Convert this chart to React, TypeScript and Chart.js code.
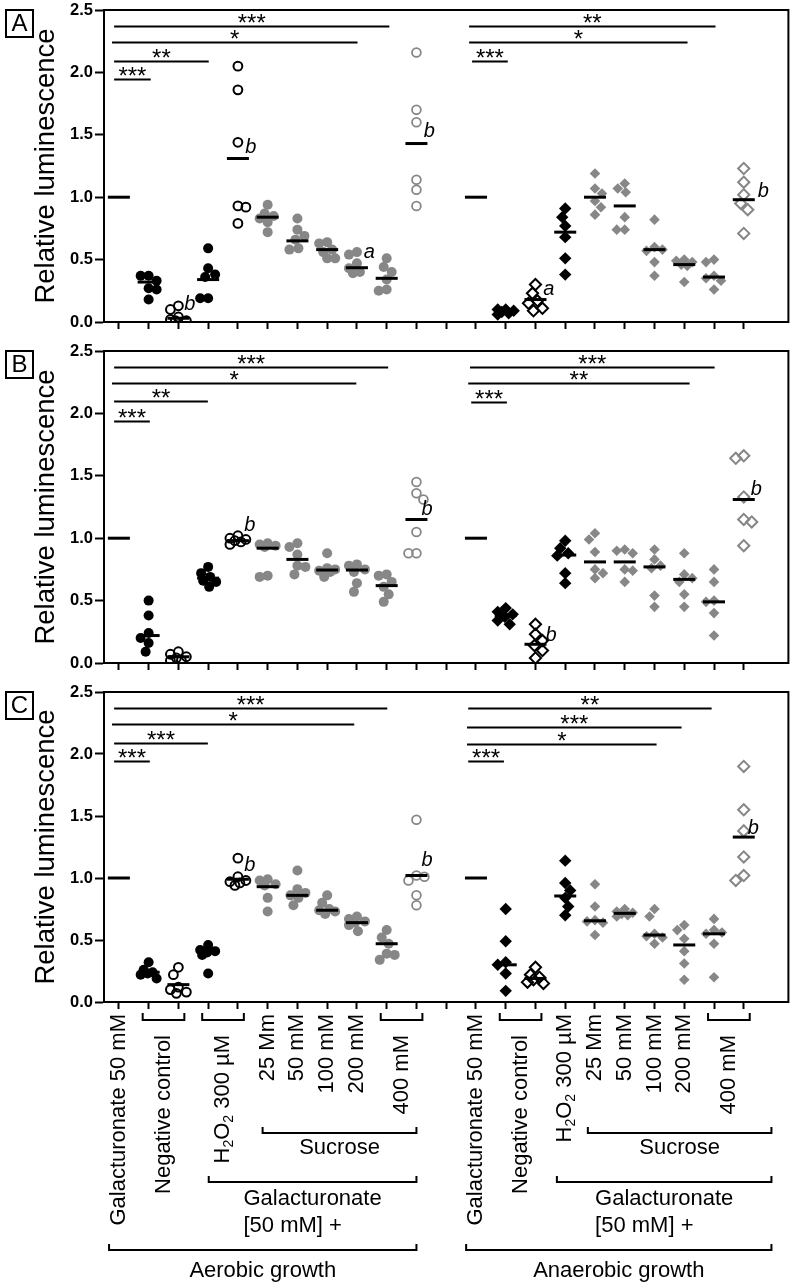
import React, { useEffect, useRef } from 'react';
import { Chart, registerables } from 'chart.js';
Chart.register(...registerables);

const FONT = '"Liberation Sans", Arial, Helvetica, sans-serif';
const GREY = '#878787';

// ---------- categories ----------
const ANAEROBIC_START = 12;
const aerobicKinds = ['line', 'blackDot', 'blackRing', 'blackDot', 'blackRing', 'greyDot', 'greyDot', 'greyDot', 'greyDot', 'greyDot', 'greyRing'];
const anaerobicKinds = ['line', 'blackDiamond', 'blackOpenDiamond', 'blackDiamond', 'greyDiamond', 'greyDiamond', 'greyDiamond', 'greyDiamond', 'greyDiamond', 'greyOpenDiamond'];

const aerobicCategories = [
  { label: 'Galacturonate 50 mM', from: 0, to: 0 },
  { label: 'Negative control', from: 1, to: 2 },
  { label: 'H₂O₂ 300 µM', from: 3, to: 4 },
  { label: '25 Mm', from: 5, to: 5 },
  { label: '50 mM', from: 6, to: 6 },
  { label: '100 mM', from: 7, to: 7 },
  { label: '200 mM', from: 8, to: 8 },
  { label: '400 mM', from: 9, to: 10 },
];
const anaerobicCategories = [
  { label: 'Galacturonate 50 mM', from: 12, to: 12 },
  { label: 'Negative control', from: 13, to: 14 },
  { label: 'H₂O₂ 300 µM', from: 15, to: 15 },
  { label: '25 Mm', from: 16, to: 16 },
  { label: '50 mM', from: 17, to: 17 },
  { label: '100 mM', from: 18, to: 18 },
  { label: '200 mM', from: 19, to: 19 },
  { label: '400 mM', from: 20, to: 21 },
];
const groupSucrose = [[4.83, 10.0], [15.76, 21.93]];
const groupGalacturonate = [[3.02, 10.0], [14.72, 21.93]];
const groupGrowth = [[-0.33, 10.0, 'Aerobic growth'], [11.67, 21.93, 'Anaerobic growth']];

// ---------- Panel A ----------
const aerobicA = [
  [1, 1, 1, 1, 1, 1],
  [0.37, 0.37, 0.33, 0.27, 0.26, 0.18],
  [0.13, 0.10, 0.04, 0.02, 0.01, 0.01],
  [0.59, 0.43, 0.38, 0.36, 0.19, 0.19],
  [2.05, 1.86, 1.44, 0.93, 0.92, 0.79],
  [0.94, 0.87, 0.85, 0.83, 0.80, 0.72],
  [0.83, 0.74, 0.69, 0.66, 0.59, 0.58],
  [0.64, 0.63, 0.58, 0.56, 0.51, 0.51],
  [0.56, 0.54, 0.47, 0.43, 0.40, 0.39],
  [0.51, 0.44, 0.40, 0.34, 0.26, 0.25],
  [2.16, 1.70, 1.60, 1.14, 1.06, 0.93],
];
const anaerobicA = [
  [1, 1, 1, 1, 1, 1],
  [0.10, 0.10, 0.09, 0.08, 0.07, 0.06],
  [0.30, 0.23, 0.17, 0.15, 0.11, 0.09],
  [0.91, 0.84, 0.77, 0.68, 0.51, 0.38],
  [1.19, 1.07, 1.03, 0.97, 0.92, 0.86],
  [1.11, 1.07, 1.04, 0.84, 0.74, 0.74],
  [0.82, 0.60, 0.58, 0.57, 0.48, 0.37],
  [0.50, 0.49, 0.48, 0.46, 0.45, 0.32],
  [0.50, 0.48, 0.37, 0.35, 0.33, 0.26],
  [1.23, 1.12, 1.02, 0.95, 0.90, 0.71],
];
const meansAerobicA = [1.0, 0.32, 0.03, 0.34, 1.31, 0.84, 0.65, 0.58, 0.435, 0.35, 1.43];
const meansAnaerobicA = [1.0, 0.08, 0.18, 0.72, 1.0, 0.93, 0.58, 0.46, 0.36, 0.98];
const sigA = [
  [-0.16, 1.07, 1.95, '***'],
  [-0.16, 3.02, 2.09, '**'],
  [-0.23, 8.02, 2.24, '*'],
  [-0.16, 9.09, 2.37, '***'],
  [11.87, 13.07, 2.09, '***'],
  [11.77, 19.11, 2.24, '*'],
  [11.77, 20.05, 2.37, '**'],
];
const lettersA = [
  [2.38, 0.14, 'b'], [4.43, 1.40, 'b'], [8.42, 0.56, 'a'], [10.43, 1.53, 'b'], [14.45, 0.26, 'a'], [21.66, 1.05, 'b'],
];

// ---------- Panel B ----------
const aerobicB = [
  [1, 1, 1, 1, 1, 1],
  [0.50, 0.38, 0.24, 0.20, 0.16, 0.09],
  [0.09, 0.07, 0.05, 0.04, 0.02, 0.02],
  [0.77, 0.72, 0.69, 0.66, 0.65, 0.61],
  [1.02, 1.00, 0.99, 0.98, 0.97, 0.95],
  [0.96, 0.95, 0.94, 0.93, 0.70, 0.69],
  [0.96, 0.93, 0.87, 0.78, 0.77, 0.71],
  [0.88, 0.76, 0.75, 0.74, 0.73, 0.69],
  [0.79, 0.78, 0.75, 0.73, 0.64, 0.57],
  [0.71, 0.70, 0.65, 0.61, 0.55, 0.49],
  [1.45, 1.36, 1.31, 1.05, 0.88, 0.88],
];
const anaerobicB = [
  [1, 1, 1, 1, 1, 1],
  [0.44, 0.41, 0.39, 0.37, 0.34, 0.31],
  [0.31, 0.23, 0.18, 0.14, 0.10, 0.04],
  [0.98, 0.92, 0.88, 0.86, 0.72, 0.64],
  [1.04, 0.99, 0.89, 0.75, 0.72, 0.68],
  [0.91, 0.90, 0.88, 0.75, 0.74, 0.65],
  [0.91, 0.83, 0.78, 0.76, 0.54, 0.45],
  [0.88, 0.71, 0.68, 0.65, 0.55, 0.45],
  [0.75, 0.65, 0.50, 0.49, 0.40, 0.22],
  [1.66, 1.64, 1.33, 1.15, 1.13, 0.94],
];
const meansAerobicB = [1.0, 0.22, 0.05, 0.68, 0.98, 0.92, 0.83, 0.745, 0.745, 0.62, 1.15];
const meansAnaerobicB = [1.0, 0.38, 0.15, 0.865, 0.81, 0.81, 0.77, 0.67, 0.49, 1.31];
const sigB = [
  [-0.16, 1.04, 1.94, '***'],
  [-0.16, 2.99, 2.10, '**'],
  [-0.23, 7.98, 2.24, '*'],
  [-0.16, 9.05, 2.37, '***'],
  [11.84, 13.04, 2.09, '***'],
  [11.74, 19.18, 2.24, '**'],
  [11.80, 20.02, 2.37, '***'],
];
const lettersB = [
  [4.40, 1.10, 'b'], [10.36, 1.23, 'b'], [14.52, 0.22, 'b'], [21.42, 1.39, 'b'],
];

// ---------- Panel C ----------
const aerobicC = [
  [1, 1, 1, 1, 1, 1],
  [0.32, 0.26, 0.24, 0.23, 0.22, 0.19],
  [0.28, 0.22, 0.12, 0.10, 0.08, 0.07],
  [0.46, 0.42, 0.41, 0.40, 0.38, 0.23],
  [1.16, 1.01, 0.98, 0.97, 0.96, 0.94],
  [0.99, 0.98, 0.95, 0.94, 0.84, 0.73],
  [1.06, 0.91, 0.88, 0.86, 0.84, 0.78],
  [0.86, 0.80, 0.75, 0.74, 0.73, 0.71],
  [0.69, 0.67, 0.65, 0.64, 0.62, 0.57],
  [0.58, 0.52, 0.47, 0.39, 0.38, 0.34],
  [1.47, 1.02, 1.01, 0.98, 0.86, 0.78],
];
const anaerobicC = [
  [1, 1, 1, 1, 1, 1],
  [0.75, 0.49, 0.32, 0.30, 0.23, 0.09],
  [0.28, 0.22, 0.20, 0.18, 0.16, 0.15],
  [1.14, 0.96, 0.90, 0.84, 0.77, 0.70],
  [0.95, 0.77, 0.66, 0.65, 0.64, 0.54],
  [0.75, 0.73, 0.72, 0.71, 0.70, 0.69],
  [0.75, 0.69, 0.55, 0.53, 0.52, 0.47],
  [0.62, 0.58, 0.51, 0.41, 0.31, 0.18],
  [0.67, 0.58, 0.56, 0.55, 0.47, 0.20],
  [1.90, 1.55, 1.38, 1.17, 1.02, 0.98],
];
const meansAerobicC = [1.0, 0.24, 0.14, 0.40, 0.99, 0.93, 0.86, 0.74, 0.64, 0.47, 1.02];
const meansAnaerobicC = [1.0, 0.30, 0.19, 0.855, 0.655, 0.715, 0.54, 0.46, 0.55, 1.33];
const sigC = [
  [-0.16, 1.04, 1.94, '***'],
  [-0.16, 2.99, 2.09, '***'],
  [-0.23, 7.91, 2.24, '*'],
  [-0.16, 9.02, 2.37, '***'],
  [11.74, 12.94, 1.94, '***'],
  [11.70, 18.07, 2.08, '*'],
  [11.70, 18.91, 2.22, '***'],
  [11.74, 19.92, 2.37, '**'],
];
const lettersC = [
  [4.40, 1.10, 'b'], [10.36, 1.145, 'b'], [21.32, 1.40, 'b'],
];

const panels = [
  { tag: 'A', aer: aerobicA, ana: anaerobicA, mAer: meansAerobicA, mAna: meansAnaerobicA, sig: sigA, letters: lettersA },
  { tag: 'B', aer: aerobicB, ana: anaerobicB, mAer: meansAerobicB, mAna: meansAnaerobicB, sig: sigB, letters: lettersB },
  { tag: 'C', aer: aerobicC, ana: anaerobicC, mAer: meansAerobicC, mAna: meansAnaerobicC, sig: sigC, letters: lettersC },
];

// ---------- styles ----------
const STYLES: Record<string, any> = {
  blackDot: { diam: 9, ds: { pointStyle: 'circle', pointRadius: 5, pointBackgroundColor: '#000', pointBorderColor: '#000', pointBorderWidth: 0 } },
  blackRing: { diam: 9, ds: { pointStyle: 'circle', pointRadius: 4.4, pointBackgroundColor: 'rgba(0,0,0,0)', pointBorderColor: '#000', pointBorderWidth: 2 } },
  greyDot: { diam: 9, ds: { pointStyle: 'circle', pointRadius: 5, pointBackgroundColor: GREY, pointBorderColor: GREY, pointBorderWidth: 0 } },
  greyRing: { diam: 9, ds: { pointStyle: 'circle', pointRadius: 4.4, pointBackgroundColor: 'rgba(0,0,0,0)', pointBorderColor: GREY, pointBorderWidth: 1.8 } },
  blackDiamond: { diam: 9, ds: { pointStyle: 'rectRot', pointRadius: 6.2, pointBackgroundColor: '#000', pointBorderColor: '#000', pointBorderWidth: 0 } },
  blackOpenDiamond: { diam: 9, ds: { pointStyle: 'rectRot', pointRadius: 5.6, pointBackgroundColor: 'rgba(0,0,0,0)', pointBorderColor: '#000', pointBorderWidth: 2 } },
  greyDiamond: { diam: 8.5, ds: { pointStyle: 'rectRot', pointRadius: 5.3, pointBackgroundColor: GREY, pointBorderColor: GREY, pointBorderWidth: 0 } },
  greyOpenDiamond: { diam: 9, ds: { pointStyle: 'rectRot', pointRadius: 5.6, pointBackgroundColor: 'rgba(0,0,0,0)', pointBorderColor: GREY, pointBorderWidth: 2 } },
};

// approximate pixel scale used only for the swarm (jitter) layout
const PX_PER_X = 29.83;
const PX_PER_Y = 124.8;
const MAX_OFF = 8;

function swarm(vals: number[], diam: number): number[] {
  const placed: { x: number; y: number }[] = [];
  const out: number[] = [];
  vals.forEach((v, idx) => {
    const y = v * PX_PER_Y;
    let chosen: number | null = null;
    let best = 0;
    let bestD = -1;
    for (let k = 0; k <= MAX_OFF && chosen === null; k++) {
      const cands = k === 0 ? [0] : idx % 2 ? [-k, k] : [k, -k];
      for (const c of cands) {
        const d = placed.length ? Math.min(...placed.map((p) => Math.hypot(p.x - c, p.y - y))) : Infinity;
        if (d >= diam) {
          chosen = c;
          break;
        }
        if (d > bestD + 0.01) {
          bestD = d;
          best = c;
        }
      }
    }
    const x = chosen === null ? best : chosen;
    placed.push({ x, y });
    out.push(x / PX_PER_X);
  });
  return out;
}

function buildDatasets(p: any) {
  const ds: any[] = [];
  const add = (vals: number[], kind: string, col: number) => {
    if (kind === 'line') return;
    const st = STYLES[kind];
    const offs = swarm(vals, st.diam);
    ds.push({ data: vals.map((v, i) => ({ x: col + offs[i], y: v })), ...st.ds });
  };
  p.aer.forEach((vals: number[], i: number) => add(vals, aerobicKinds[i], i));
  p.ana.forEach((vals: number[], j: number) => add(vals, anaerobicKinds[j], ANAEROBIC_START + j));
  return ds;
}

function drawRotatedLabel(ctx: CanvasRenderingContext2D, text: string, x: number, yTop: number) {
  const parts: { t: string; sub: boolean }[] = [];
  for (const ch of text) {
    const sub = ch === '₂';
    const t = sub ? '2' : ch;
    const last = parts[parts.length - 1];
    if (last && last.sub === sub) last.t += t;
    else parts.push({ t, sub });
  }
  ctx.save();
  ctx.translate(x, yTop);
  ctx.rotate(-Math.PI / 2);
  ctx.textBaseline = 'middle';
  ctx.textAlign = 'left';
  const widths = parts.map((p) => {
    ctx.font = `${p.sub ? 14 : 22}px ${FONT}`;
    return ctx.measureText(p.t).width;
  });
  let u = -widths.reduce((a, b) => a + b, 0);
  parts.forEach((p, i) => {
    ctx.font = `${p.sub ? 14 : 22}px ${FONT}`;
    ctx.fillText(p.t, u, p.sub ? 6 : 0);
    u += widths[i];
  });
  ctx.restore();
}

function decoPlugin(p: any, bottom: boolean) {
  return {
    id: 'deco' + p.tag,
    afterDatasetsDraw(chart: any) {
      const { ctx, chartArea: ca } = chart;
      const xs = chart.scales.x;
      const ys = chart.scales.y;
      const X = (v: number) => xs.getPixelForValue(v);
      const Y = (v: number) => ys.getPixelForValue(v);
      ctx.save();
      ctx.strokeStyle = '#000';
      ctx.fillStyle = '#000';
      // frame top/right
      ctx.lineWidth = 2;
      ctx.beginPath();
      ctx.moveTo(ca.left - 1, ca.top);
      ctx.lineTo(ca.right, ca.top);
      ctx.lineTo(ca.right, ca.bottom + 1);
      ctx.stroke();
      // mean lines
      ctx.lineWidth = 3;
      const mean = (m: number, col: number) => {
        if (m == null) return;
        ctx.beginPath();
        ctx.moveTo(X(col - 0.37), Y(m));
        ctx.lineTo(X(col + 0.37), Y(m));
        ctx.stroke();
      };
      p.mAer.forEach((m: number, i: number) => mean(m, i));
      p.mAna.forEach((m: number, j: number) => mean(m, ANAEROBIC_START + j));
      // significance bars
      ctx.lineWidth = 1.8;
      ctx.font = `24px ${FONT}`;
      ctx.textAlign = 'center';
      ctx.textBaseline = 'alphabetic';
      p.sig.forEach(([x1, x2, y, lab]: any) => {
        const py = Math.round(Y(y)) + 0.5;
        ctx.beginPath();
        ctx.moveTo(X(x1), py);
        ctx.lineTo(X(x2), py);
        ctx.stroke();
        ctx.fillText(lab, (X(x1) + X(x2)) / 2, py + 4.5);
      });
      // letters
      ctx.font = `italic 20px ${FONT}`;
      ctx.textBaseline = 'middle';
      p.letters.forEach(([x, y, t]: any) => ctx.fillText(t, X(x), Y(y)));
      // panel tag box
      ctx.lineWidth = 2;
      ctx.strokeRect(6, 10, 27, 27);
      ctx.font = `24px ${FONT}`;
      ctx.textAlign = 'center';
      ctx.textBaseline = 'middle';
      ctx.fillText(p.tag, 19.5, 24.5);

      if (bottom) {
        const b = ca.bottom;
        ctx.lineWidth = 2;
        const bracket = (x1: number, x2: number, yy: number, h: number) => {
          ctx.beginPath();
          ctx.moveTo(x1, yy - h);
          ctx.lineTo(x1, yy);
          ctx.lineTo(x2, yy);
          ctx.lineTo(x2, yy - h);
          ctx.stroke();
        };
        [...aerobicCategories, ...anaerobicCategories].forEach((c) => {
          const grouped = c.from !== c.to;
          if (grouped) bracket(X(c.from - 0.2), X(c.to + 0.2), b + 18, 7);
          const cx = (X(c.from) + X(c.to)) / 2;
          drawRotatedLabel(ctx, c.label, cx, b + (grouped ? 33 : 12));
        });
        ctx.font = `22px ${FONT}`;
        ctx.textBaseline = 'alphabetic';
        groupSucrose.forEach(([x1, x2]) => {
          bracket(X(x1), X(x2), b + 131, 6);
          ctx.textAlign = 'center';
          ctx.fillText('Sucrose', (X(x1) + X(x2)) / 2, b + 152);
        });
        groupGalacturonate.forEach(([x1, x2]) => {
          bracket(X(x1), X(x2), b + 180, 6);
          const cx = (X(x1) + X(x2)) / 2;
          const w = ctx.measureText('Galacturonate').width;
          ctx.textAlign = 'left';
          ctx.fillText('Galacturonate', cx - w / 2, b + 203);
          ctx.fillText('[50 mM] +', cx - w / 2, b + 230);
        });
        groupGrowth.forEach(([x1, x2, t]: any) => {
          bracket(X(x1), X(x2), b + 248, 6);
          ctx.textAlign = 'center';
          ctx.fillText(t, (X(x1) + X(x2)) / 2, b + 275);
        });
      }
      ctx.restore();
    },
  };
}

function makeChart(canvas: HTMLCanvasElement, p: any, bottom: boolean, xHeight: number) {
  return new Chart(canvas, {
    type: 'scatter',
    data: { datasets: buildDatasets(p) },
    options: {
      animation: false,
      responsive: false,
      maintainAspectRatio: false,
      devicePixelRatio: 1,
      events: [],
      layout: { padding: { top: 10, right: 6, left: 0, bottom: 0 } },
      plugins: { legend: { display: false }, tooltip: { enabled: false } },
      scales: {
        x: {
          type: 'linear',
          position: 'bottom',
          min: -0.5,
          max: 22.5,
          afterBuildTicks: (s: any) => {
            s.ticks = Array.from({ length: 22 }, (_, i) => ({ value: i }));
          },
          afterFit: (s: any) => {
            s.height = xHeight;
            s.paddingLeft = 0;
            s.paddingRight = 0;
          },
          ticks: { display: false },
          grid: { drawOnChartArea: false, drawTicks: true, tickLength: 7, tickWidth: 2, tickColor: '#000' },
          border: { display: true, color: '#000', width: 2 },
        },
        y: {
          type: 'linear',
          min: 0,
          max: 2.5,
          ticks: {
            stepSize: 0.5,
            callback: (v: any) => Number(v).toFixed(1),
            font: { family: FONT, size: 16.5, weight: 'bold' },
            color: '#000',
            padding: 2,
          },
          grid: { drawOnChartArea: false, drawTicks: true, tickLength: 9, tickWidth: 2, tickColor: '#000' },
          border: { display: true, color: '#000', width: 2 },
          title: {
            display: true,
            text: 'Relative luminescence',
            font: { family: FONT, size: 27.5 },
            color: '#000',
            padding: { top: 30, bottom: 0 },
          },
          afterFit: (s: any) => {
            s.width = 104;
            s.paddingTop = 0;
            s.paddingBottom = 0;
          },
        },
      },
    } as any,
    plugins: [decoPlugin(p, bottom)],
  });
}

export default function App() {
  const refA = useRef<HTMLCanvasElement>(null);
  const refB = useRef<HTMLCanvasElement>(null);
  const refC = useRef<HTMLCanvasElement>(null);
  useEffect(() => {
    const charts = [
      makeChart(refA.current!, panels[0], false, 19),
      makeChart(refB.current!, panels[1], false, 19),
      makeChart(refC.current!, panels[2], true, 285),
    ];
    return () => charts.forEach((c) => c.destroy());
  }, []);
  return (
    <div style={{ position: 'absolute', left: 0, top: 0, width: 796, height: 1287, background: '#fff' }}>
      <canvas ref={refA} width={796} height={341} style={{ display: 'block', width: 796, height: 341 }} />
      <canvas ref={refB} width={796} height={341} style={{ display: 'block', width: 796, height: 341 }} />
      <canvas ref={refC} width={796} height={605} style={{ display: 'block', width: 796, height: 605 }} />
    </div>
  );
}
